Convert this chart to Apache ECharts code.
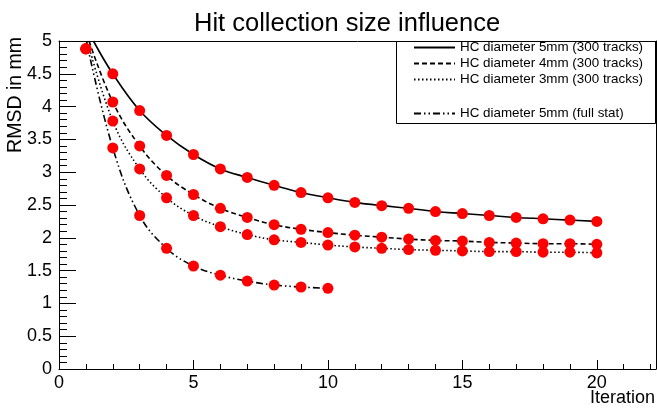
<!DOCTYPE html>
<html>
<head>
<meta charset="utf-8">
<title>Hit collection size influence</title>
<script src="https://cdn.jsdelivr.net/npm/echarts@6/dist/echarts.min.js"></script>
<style>
    html, body { margin: 0; padding: 0; background: #fff; }
    #hcChart { width: 657px; height: 408px; }
</style>
</head>
<body>
<div id="hcChart"></div>
<script>
// 数据
var iterations = [1, 2, 3, 4, 5, 6, 7, 8, 9, 10, 11, 12, 13, 14, 15, 16, 17, 18, 19, 20];
var rmsd5mm = [4.88, 4.50, 3.94, 3.56, 3.27, 3.05, 2.92, 2.80, 2.69, 2.61, 2.54, 2.49, 2.45, 2.40, 2.37, 2.34, 2.31, 2.29, 2.27, 2.25];
var rmsd4mm = [4.88, 4.07, 3.40, 2.95, 2.66, 2.45, 2.31, 2.20, 2.13, 2.08, 2.04, 2.01, 1.98, 1.96, 1.95, 1.93, 1.92, 1.91, 1.91, 1.90];
var rmsd3mm = [4.88, 3.78, 3.05, 2.61, 2.34, 2.17, 2.05, 1.97, 1.93, 1.89, 1.86, 1.84, 1.82, 1.81, 1.80, 1.79, 1.79, 1.78, 1.78, 1.77];
var rmsdFull = [4.88, 3.37, 2.34, 1.84, 1.57, 1.43, 1.34, 1.28, 1.25, 1.23];
// fit curves enter the frame (RMSD = 5) at these iterations
var fitStart5mm = [1.28, 5.0];
var fitStart4mm = [1.12, 5.0];
var fitStart3mm = [1.06, 5.0];
var fitStartFull = [1.02, 5.0];
var seriesNames = ['HC diameter 5mm (300 tracks)', 'HC diameter 4mm (300 tracks)',
    'HC diameter 3mm (300 tracks)', 'HC diameter 5mm (full stat)'];
var xTicks = [0, 5, 10, 15, 20];

var fontName = 'Liberation Sans, Arial, Helvetica, sans-serif';
var xMax = 22.2;
var yMax = 5;

function toPoints(values) {
    var pts = [];
    for (var i = 0; i < values.length; i++) {
        pts.push([iterations[i], values[i]]);
    }
    return pts;
}

// fit curve: start point + measured points from iteration 2
function fitCurve(start, values) {
    return [start].concat(toPoints(values).slice(1));
}

function curveSeries(name, data, type) {
    return {
        name: name,
        type: 'line',
        data: data,
        symbol: 'none',
        smooth: 0.4,
        itemStyle: {color: '#000'},
        lineStyle: {color: '#000', width: 1.6, type: type},
        z: 2
    };
}

function dotSeries(values) {
    return {
        type: 'scatter',
        data: toPoints(values),
        symbol: 'circle',
        symbolSize: 11,
        itemStyle: {color: '#ff0000', opacity: 1},
        z: 5
    };
}

function legendBlock(names, top) {
    return {
        data: names,
        orient: 'vertical',
        left: 413,
        top: top,
        padding: 0,
        itemWidth: 41,
        itemHeight: 14,
        itemGap: 3,
        itemStyle: {opacity: 0},
        textStyle: {fontFamily: fontName, fontSize: 13.4, color: '#000'}
    };
}

// axis used only for ticks or for the frame line
function helperAxis(position, max, interval, tickLen, showLine) {
    return {
        type: 'value',
        position: position,
        min: 0,
        max: max,
        interval: interval,
        axisLine: {show: showLine, onZero: false, lineStyle: {color: '#000'}},
        axisTick: {show: tickLen > 0, inside: true, length: tickLen, lineStyle: {color: '#000'}},
        axisLabel: {show: false},
        splitLine: {show: false}
    };
}

var hcChart = echarts.init(document.getElementById('hcChart'));
var hcOption = {
    animation: false,
    title: {
        text: 'Hit collection size influence',
        left: 189,
        top: 6,
        textStyle: {fontFamily: fontName, fontSize: 25.5, fontWeight: 'normal', color: '#000'}
    },
    legend: [
        legendBlock(seriesNames.slice(0, 3), 41),
        legendBlock(seriesNames.slice(3), 107)
    ],
    grid: {
        left: 59,
        right: 1,
        top: 41,
        bottom: 39
    },
    xAxis: [
        {
            type: 'value',
            min: 0,
            max: xMax,
            interval: 5,
            axisLine: {show: true, onZero: false, lineStyle: {color: '#000'}},
            axisTick: {show: true, inside: true, length: 9, lineStyle: {color: '#000'}},
            axisLabel: {
                fontSize: 18, color: '#000', margin: 5, fontFamily: fontName,
                showMaxLabel: false,
                formatter: function (v) { return xTicks.indexOf(v) >= 0 ? String(v) : ''; }
            },
            splitLine: {show: false}
        },
        helperAxis('bottom', xMax, 1, 5, false),
        helperAxis('bottom', xMax, 5, 9, false),
        helperAxis('top', xMax, 5, 0, true)
    ],
    yAxis: [
        {
            type: 'value',
            min: 0,
            max: yMax,
            interval: 0.5,
            axisLine: {show: true, onZero: false, lineStyle: {color: '#000'}},
            axisTick: {show: true, inside: true, length: 17, lineStyle: {color: '#000'}},
            axisLabel: {fontSize: 18, color: '#000', margin: 7, fontFamily: fontName},
            splitLine: {show: false}
        },
        helperAxis('left', yMax, 0.1, 8, false),
        helperAxis('left', yMax, 0.5, 17, false),
        helperAxis('right', yMax, 0.5, 0, true)
    ],
    graphic: [
        {
            // legend frame
            type: 'rect',
            shape: {x: 396.5, y: 41.5, width: 259, height: 82},
            style: {fill: 'transparent', stroke: '#000', lineWidth: 1},
            z: 1
        },
        {
            type: 'text',
            right: 2,
            top: 389,
            style: {text: 'Iteration', font: '18px ' + fontName, fill: '#000'}
        },
        {
            type: 'text',
            left: 6,
            top: 37,
            rotation: Math.PI / 2,
            originX: 0,
            originY: 0,
            style: {text: 'RMSD in mm', font: '19.5px ' + fontName, fill: '#000', textAlign: 'right', textVerticalAlign: 'top'}
        }
    ],
    series: [
        curveSeries(seriesNames[0], fitCurve(fitStart5mm, rmsd5mm), 'solid'),
        curveSeries(seriesNames[1], fitCurve(fitStart4mm, rmsd4mm), [5, 3]),
        curveSeries(seriesNames[2], fitCurve(fitStart3mm, rmsd3mm), [1.5, 2.5]),
        curveSeries(seriesNames[3], fitCurve(fitStartFull, rmsdFull), [7, 3, 1.5, 3, 1.5, 3]),
        dotSeries(rmsd5mm),
        dotSeries(rmsd4mm),
        dotSeries(rmsd3mm),
        dotSeries(rmsdFull)
    ]
};
hcChart.setOption(hcOption);
</script>
</body>
</html>
